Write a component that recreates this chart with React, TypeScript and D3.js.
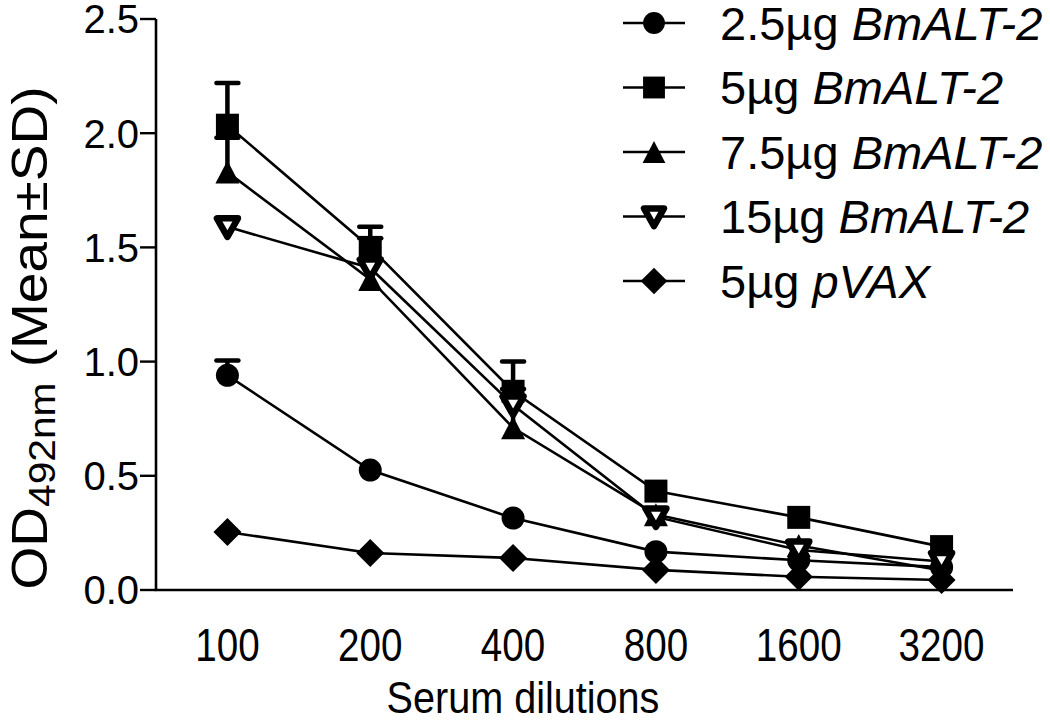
import React from "react";
import * as d3 from "d3";

const categories = ["100", "200", "400", "800", "1600", "3200"];
const yTicks = [0, 0.5, 1.0, 1.5, 2.0, 2.5];

const circleMean = [0.94, 0.525, 0.315, 0.168, 0.13, 0.1];
const circleSD = [0.065, 0, 0, 0, 0, 0];
const squareMean = [2.035, 1.5, 0.87, 0.433, 0.318, 0.19];
const squareSD = [0.185, 0.09, 0.13, 0, 0, 0];
const triangleMean = [1.83, 1.36, 0.71, 0.33, 0.195, 0.085];
const triangleSD = [0.15, 0.18, 0.17, 0, 0, 0];
const invTriangleMean = [1.59, 1.41, 0.81, 0.32, 0.175, 0.125];
const invTriangleSD = [0, 0, 0, 0, 0, 0];
const diamondMean = [0.254, 0.162, 0.14, 0.088, 0.058, 0.044];
const diamondSD = [0, 0, 0, 0, 0, 0];

const seriesDose = ["2.5µg ", "5µg ", "7.5µg ", "15µg ", "5µg "];
const seriesName = ["BmALT-2", "BmALT-2", "BmALT-2", "BmALT-2", "pVAX"];
const seriesShape = ["circle", "square", "triangle", "invtriangle", "diamond"];

const series = [
  { mean: circleMean, sd: circleSD },
  { mean: squareMean, sd: squareSD },
  { mean: triangleMean, sd: triangleSD },
  { mean: invTriangleMean, sd: invTriangleSD },
  { mean: diamondMean, sd: diamondSD },
];

const FONT = "'Liberation Sans', Arial, Helvetica, sans-serif";

function Marker({ shape, x, y, s = 1 }: { shape: string; x: number; y: number; s?: number }) {
  if (shape === "circle") return <circle cx={x} cy={y} r={11.5 * s} fill="#000" />;
  if (shape === "square") {
    const h = 11.5 * s;
    return <rect x={x - h} y={y - h} width={2 * h} height={2 * h} fill="#000" />;
  }
  if (shape === "triangle") {
    const w = 12 * s, h = 11.5 * s;
    return <path d={`M${x - w},${y + h}L${x + w},${y + h}L${x},${y - h}Z`} fill="#000" />;
  }
  if (shape === "invtriangle") {
    const w = 10.5 * s, h = 8.5 * s;
    return (
      <path
        d={`M${x - w},${y - h}L${x + w},${y - h}L${x},${y + h + 1.5}Z`}
        fill="#fff"
        stroke="#000"
        strokeWidth={6.5}
        strokeLinejoin="round"
      />
    );
  }
  const r = 14 * s;
  return <path d={`M${x},${y - r}L${x + r},${y}L${x},${y + r}L${x - r},${y}Z`} fill="#000" />;
}

export default function App() {
  const x = d3.scalePoint<string>().domain(categories).range([156, 1013]).padding(0.5);
  const y = d3.scaleLinear().domain([0, 2.5]).range([590, 19]);
  const line = d3
    .line<number>()
    .x((_, i) => x(categories[i]) as number)
    .y((d) => y(d));

  const legendX = 623;
  const legendY = (i: number) => 23 + i * 64.5;

  return (
    <svg
      width={1050}
      height={722}
      style={{ position: "absolute", left: 0, top: 0, background: "#fff" }}
      fontFamily={FONT}
    >
      <rect width={1050} height={722} fill="#fff" />
      {/* axes */}
      <path d={`M${x.range()[0]},${y(2.5)}V${y(0)}H${x.range()[1]}`} fill="none" stroke="#000" strokeWidth={2.6} />
      {yTicks.map((t) => (
        <g key={t}>
          <line x1={140} x2={156} y1={y(t)} y2={y(t)} stroke="#000" strokeWidth={2.4} />
          <text x={139} y={y(t)} dy="0.36em" textAnchor="end" fontSize={40}>
            {d3.format(".1f")(t)}
          </text>
        </g>
      ))}
      {categories.map((c) => (
        <text
          key={c}
          transform={`translate(${x(c)},661) scale(0.84,1)`}
          textAnchor="middle"
          fontSize={46}
        >
          {c}
        </text>
      ))}
      <text transform="translate(523,713) scale(0.9,1)" textAnchor="middle" fontSize={44}>
        Serum dilutions
      </text>
      <text transform="translate(47,338) rotate(-90) scale(1.1,1)" textAnchor="middle" fontSize={50}>
        OD
        <tspan fontSize={37} dy={8}>492nm</tspan>
        <tspan dy={-8}> (Mean±SD)</tspan>
      </text>

      {/* lines */}
      {series.map((s, i) => (
        <path key={"l" + i} d={line(s.mean) || ""} fill="none" stroke="#000" strokeWidth={2.6} />
      ))}
      {/* error bars (upper) */}
      {series.map((s, i) =>
        s.mean.map((m, j) =>
          s.sd[j] > 0 ? (
            <g key={`e${i}-${j}`}>
              <line
                x1={x(categories[j])}
                x2={x(categories[j])}
                y1={y(m)}
                y2={y(m + s.sd[j])}
                stroke="#000"
                strokeWidth={4.5}
              />
              <line
                x1={(x(categories[j]) as number) - 11}
                x2={(x(categories[j]) as number) + 11}
                y1={y(m + s.sd[j])}
                y2={y(m + s.sd[j])}
                stroke="#000"
                strokeWidth={4.5}
                strokeLinecap="round"
              />
            </g>
          ) : null
        )
      )}
      {/* markers */}
      {series.map((s, i) =>
        s.mean.map((m, j) => (
          <Marker key={`m${i}-${j}`} shape={seriesShape[i]} x={x(categories[j]) as number} y={y(m)} />
        ))
      )}

      {/* legend */}
      {seriesShape.map((sh, i) => (
        <g key={"lg" + i}>
          <line x1={legendX} x2={legendX + 62} y1={legendY(i)} y2={legendY(i)} stroke="#000" strokeWidth={2.6} />
          <Marker shape={sh} x={legendX + 31} y={legendY(i)} s={0.95} />
          <text x={720} y={legendY(i)} dy="0.36em" fontSize={47}>
            {seriesDose[i]}
            <tspan fontStyle="italic">{seriesName[i]}</tspan>
          </text>
        </g>
      ))}
    </svg>
  );
}
